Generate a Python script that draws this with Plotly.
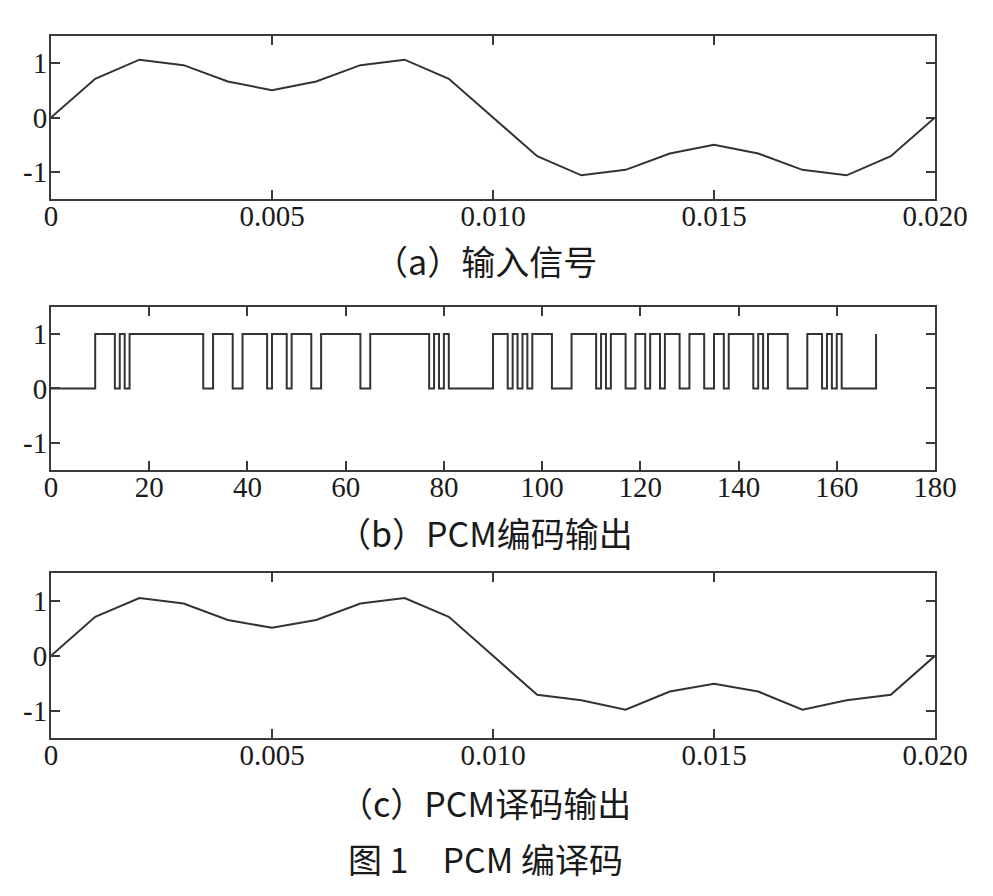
import plotly.graph_objects as go

# ---- data ----
t = [0.000, 0.001, 0.002, 0.003, 0.004, 0.005, 0.006, 0.007, 0.008, 0.009, 0.010,
     0.011, 0.012, 0.013, 0.014, 0.015, 0.016, 0.017, 0.018, 0.019, 0.020]
input_signal = [0.0, 0.71, 1.06, 0.96, 0.66, 0.50, 0.66, 0.96, 1.06, 0.71, 0.0,
                -0.71, -1.06, -0.96, -0.66, -0.50, -0.66, -0.96, -1.06, -0.71, 0.0]
pcm_codes = ["00000000", "11110101", "11111111", "11111100", "11110011", "11101110",
             "11110011", "11111100", "11111111", "11110101", "00000000",
             "01110101", "01111000", "01111101", "01110011", "01101110",
             "01110011", "01111101", "01111000", "01110101", "00000001"]
decoded_signal = [0.0, 0.71, 1.05, 0.95, 0.65, 0.51, 0.65, 0.95, 1.05, 0.71, 0.0,
                  -0.71, -0.81, -0.98, -0.65, -0.51, -0.65, -0.98, -0.81, -0.71, 0.0]

xticks_t = [0, 0.005, 0.010, 0.015, 0.020]
xticklabels_t = ["0", "0.005", "0.010", "0.015", "0.020"]
xticks_b = [0, 20, 40, 60, 80, 100, 120, 140, 160, 180]
yticks = [-1, 0, 1]
yticklabels = ["-1", "0", "1"]

captions = ["（a）输入信号", "（b）PCM编码输出", "（c）PCM译码输出", "图 1　PCM 编译码"]

# bit stream (stairs starting at index 0)
bits = [0] + [int(c) for code in pcm_codes for c in code]
bit_idx = list(range(len(bits)))

# ---- style ----
W, H = 993, 896
OFF = 8  # page body margin offset
LINE = "#333333"
AX = "#3a3a3a"
tick_font = dict(family="Liberation Serif, Times New Roman, serif", size=29, color="#1a1a1a")
cap_font = dict(family="Noto Sans CJK SC, sans-serif", size=34, color="#1a1a1a")

x0, x1 = (51 - OFF) / W, (935 - OFF) / W
panels = [(35.7, 199.3), (306.8, 470.0), (573.3, 738.3)]

fig = go.Figure()
fig.add_trace(go.Scatter(x=t, y=input_signal, mode="lines",
                         line=dict(color=LINE, width=2), xaxis="x", yaxis="y"))
fig.add_trace(go.Scatter(x=bit_idx, y=bits, mode="lines", line_shape="hv",
                         line=dict(color=LINE, width=2), xaxis="x2", yaxis="y2"))
fig.add_trace(go.Scatter(x=t, y=decoded_signal, mode="lines",
                         line=dict(color=LINE, width=2), xaxis="x3", yaxis="y3"))

common_ax = dict(showline=True, linecolor=AX, linewidth=2, mirror="allticks",
                 ticks="inside", ticklen=9, tickwidth=2, tickcolor=AX,
                 showgrid=False, zeroline=False, tickfont=tick_font, fixedrange=True,
                 automargin=False)

layout = dict(width=W, height=H, margin=dict(l=0, r=0, t=0, b=0, pad=0),
              paper_bgcolor="white", plot_bgcolor="white", showlegend=False)

for i, (top, bot) in enumerate(panels):
    sfx = "" if i == 0 else str(i + 1)
    dom_y = [1 - (bot - OFF) / H, 1 - (top - OFF) / H]
    if i == 1:
        xa = dict(common_ax, range=[0, 180], tickvals=xticks_b,
                  ticktext=[str(v) for v in xticks_b])
    else:
        xa = dict(common_ax, range=[0, 0.02], tickvals=xticks_t, ticktext=xticklabels_t)
    xa.update(domain=[x0, x1], anchor="y" + sfx, ticklabelstandoff=-10)
    ya = dict(common_ax, range=[-1.5, 1.5], tickvals=yticks, ticktext=yticklabels,
              domain=dom_y, anchor="x" + sfx, ticklabelstandoff=-4)
    layout["xaxis" + sfx] = xa
    layout["yaxis" + sfx] = ya

fig.update_layout(**layout)

cap_y = [260, 532, 802, 858]
for text, yy in zip(captions, cap_y):
    fig.add_annotation(text=text, x=(485 - OFF) / W, y=1 - (yy - OFF) / H,
                       xref="paper", yref="paper",
                       xanchor="center", yanchor="middle", showarrow=False, font=cap_font)

fig.write_html("out.html")
